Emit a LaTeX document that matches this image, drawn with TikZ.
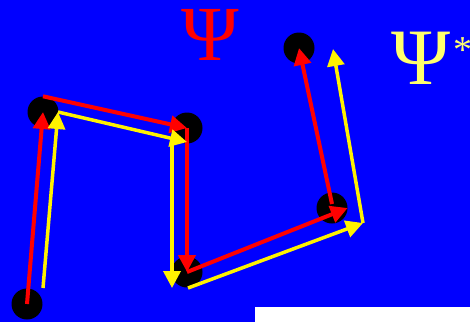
\documentclass[tikz,border=0pt]{standalone}
\usepackage{fontspec}
\setmainfont{Liberation Serif}
\usepackage{xcolor}
\usetikzlibrary{arrows.meta,positioning,calc}
\definecolor{bgblue}{RGB}{0,0,255}
\definecolor{paleyellow}{RGB}{255,255,110}

\begin{document}
\begin{tikzpicture}[x=1pt,y=-1pt,
            dot/.style={circle, fill=black, inner sep=0pt, minimum size=31pt},
            redarrow/.style={line width=4pt, red, -{Triangle[length=17pt,width=17pt]}},
            yelarrow/.style={line width=3.5pt, yellow, -{Triangle[length=17pt,width=17pt]}}]

            % Background
            \fill[bgblue] (0,0) rectangle (470,322);
            \useasboundingbox (0,0) rectangle (470,322);
            \fill[white] (255,307) rectangle (470,322);

            % Labels
            \node[text=red, font=\fontsize{78}{78}\selectfont, inner sep=0pt] (psi) at (210,35) {Ψ};
            \node[text=paleyellow, font=\fontsize{80}{80}\selectfont, inner sep=0pt, anchor=west] (psistar) at (391,58) {Ψ\hspace{3pt}\raisebox{22pt}{\fontsize{38}{38}\selectfont *}};

            % Dots
            \node[dot] (d1) at (27,304) {};
            \node[dot] (d2) at (43,112) {};
            \node[dot] (d3) at (187,128) {};
            \node[dot] (d4) at (187,272) {};
            \node[dot] (d5) at (332,208) {};
            \node[dot] (d6) at (299,48) {};

            % Yellow path points
            \coordinate (y1) at (43,288);
            \coordinate (y2) at (58,112);
            \coordinate (y3) at (187,142);
            \coordinate (y4) at (172,145);
            \coordinate (y5) at (172,288);
            \coordinate (y6) at (188,288);
            \coordinate (y7) at (363,223);
            \coordinate (y8) at (333,49);

            % Red connections
            \draw[redarrow] (d1.center) -- (d2.center);
            \draw[redarrow] (d2.north) -- (d3.center);
            \draw[redarrow] (d3.center) -- (d4.center);
            \draw[redarrow] (d4.center) -- (d5.east);
            \draw[redarrow] ([yshift=4pt]d5.center) -- (d6.center);

            % Yellow connections
            \draw[yelarrow] (y1) -- (y2);
            \draw[yelarrow] (y2) -- (y3);
            \draw[yelarrow] (y4) -- (y5);
            \draw[yelarrow] (y6) -- (y7);
            \draw[yelarrow] (y7) -- (y8);
\end{tikzpicture}
\end{document}
